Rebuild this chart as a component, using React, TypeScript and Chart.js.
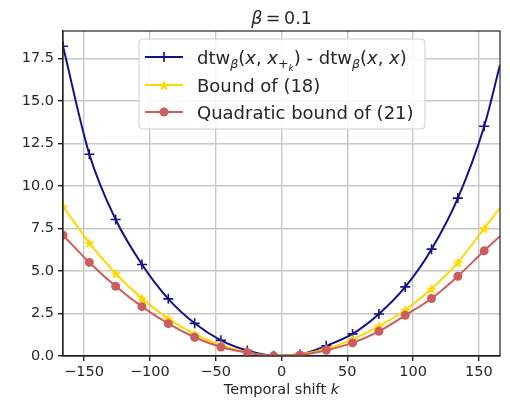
import React, { useEffect, useRef } from "react";
import { Chart, registerables } from "chart.js";

Chart.register(...registerables);

// Temporal shifts k at which the curves are sampled (markers every 20 steps, last point unmarked)
const shifts = [-166, -146, -126, -106, -86, -66, -46, -26, -6, 14, 34, 54, 74, 94, 114, 134, 154, 166];

// dtw_beta(x, x_{+k}) - dtw_beta(x, x)
const dtwGap = [18.2, 11.86, 8.02, 5.38, 3.36, 1.92, 0.92, 0.32, 0.02, 0.1, 0.6, 1.3, 2.47, 4.06, 6.28, 9.28, 13.5, 17.1];
// Bound of (18)
const bound18 = [8.8, 6.65, 4.85, 3.38, 2.2, 1.3, 0.63, 0.22, 0.01, 0.1, 0.42, 0.98, 1.75, 2.7, 3.95, 5.5, 7.5, 8.7];
// Quadratic bound of (21)
const quadBound21 = [7.1, 5.5, 4.1, 2.9, 1.9, 1.1, 0.53, 0.2, 0.01, 0.06, 0.34, 0.77, 1.45, 2.39, 3.38, 4.69, 6.18, 7.04];

const xTickValues = [-150, -100, -50, 0, 50, 100, 150];
const yTickValues = [0, 2.5, 5, 7.5, 10, 12.5, 15, 17.5];

const X_MIN = -166;
const X_MAX = 166;
const Y_MIN = 0;
const Y_MAX = 19.1;

const FAMILY = '"DejaVu Sans", "Liberation Sans", sans-serif';
const TEXT = "#262626";
const NAVY = "#111188";
const GOLD = "#ffd700";
const INDIAN_RED = "#cd5c5c";
const GRID = "#c8c8c8";
const SPINE = "#222222";

const TICK_PX = 14.5;
const LEGEND_PX = 18;
const TITLE_PX = 17.5;

function makeStar(size: number, color: string): HTMLCanvasElement {
  const c = document.createElement("canvas");
  c.width = size;
  c.height = size;
  const ctx = c.getContext("2d")!;
  const cx = size / 2;
  const cy = size / 2 + size * 0.05;
  const R = size / 2;
  const r = R * 0.4;
  ctx.fillStyle = color;
  ctx.beginPath();
  for (let i = 0; i < 10; i++) {
    const ang = -Math.PI / 2 + (i * Math.PI) / 5;
    const rad = i % 2 === 0 ? R : r;
    ctx.lineTo(cx + rad * Math.cos(ang), cy + rad * Math.sin(ang));
  }
  ctx.closePath();
  ctx.fill();
  return c;
}

type Seg = { t: string; italic?: boolean; scale?: number; dy?: number };

function drawRich(ctx: CanvasRenderingContext2D, segs: Seg[], x: number, y: number, px: number) {
  let cx = x;
  for (const s of segs) {
    const size = px * (s.scale ?? 1);
    ctx.font = `${s.italic ? "italic " : ""}${size}px ${FAMILY}`;
    ctx.fillText(s.t, cx, y + (s.dy ?? 0));
    cx += ctx.measureText(s.t).width;
  }
  return cx - x;
}

function richWidth(ctx: CanvasRenderingContext2D, segs: Seg[], px: number) {
  let w = 0;
  for (const s of segs) {
    const size = px * (s.scale ?? 1);
    ctx.font = `${s.italic ? "italic " : ""}${size}px ${FAMILY}`;
    w += ctx.measureText(s.t).width;
  }
  return w;
}

const sub = 0.7;
const dtwLabel: Seg[] = [
  { t: "dtw" },
  { t: "β", italic: true, scale: sub, dy: 4 },
  { t: "(" },
  { t: "x", italic: true },
  { t: ", " },
  { t: "x", italic: true },
  { t: "+", scale: sub, dy: 4 },
  { t: "k", italic: true, scale: 0.5, dy: 7 },
  { t: ") - dtw" },
  { t: "β", italic: true, scale: sub, dy: 4 },
  { t: "(" },
  { t: "x", italic: true },
  { t: ", " },
  { t: "x", italic: true },
  { t: ")" },
];

const legendRows: { label: Seg[]; color: string; marker: "plus" | "star" | "circle" }[] = [
  { label: dtwLabel, color: NAVY, marker: "plus" },
  { label: [{ t: "Bound of (18)" }], color: GOLD, marker: "star" },
  { label: [{ t: "Quadratic bound of (21)" }], color: INDIAN_RED, marker: "circle" },
];

function roundRect(ctx: CanvasRenderingContext2D, x: number, y: number, w: number, h: number, r: number) {
  ctx.beginPath();
  ctx.moveTo(x + r, y);
  ctx.lineTo(x + w - r, y);
  ctx.arcTo(x + w, y, x + w, y + r, r);
  ctx.lineTo(x + w, y + h - r);
  ctx.arcTo(x + w, y + h, x + w - r, y + h, r);
  ctx.lineTo(x + r, y + h);
  ctx.arcTo(x, y + h, x, y + h - r, r);
  ctx.lineTo(x, y + r);
  ctx.arcTo(x, y, x + r, y, r);
  ctx.closePath();
}

export default function App() {
  const ref = useRef<HTMLCanvasElement>(null);

  useEffect(() => {
    const canvas = ref.current!;
    const star = makeStar(12, GOLD);
    const lastIdx = shifts.length - 1;
    const radii = (r: number) => shifts.map((_, i) => (i === lastIdx ? 0 : r));
    const pts = (ys: number[]) => shifts.map((k, i) => ({ x: k, y: ys[i] }));

    // Axes frame, axis title, plot title and legend
    const decorations = {
      id: "decorations",
      afterDatasetsDraw(chart: Chart) {
        const { ctx, chartArea: a } = chart;
        ctx.save();
        ctx.strokeStyle = SPINE;
        ctx.lineWidth = 1.2;
        ctx.strokeRect(a.left, a.top, a.right - a.left, a.bottom - a.top);

        // Legend box
        const bx = 139, by = 39, bw = 286, bh = 90;
        roundRect(ctx, bx, by, bw, bh, 4);
        ctx.fillStyle = "rgba(255,255,255,0.85)";
        ctx.fill();
        ctx.strokeStyle = "rgba(200,200,200,0.9)";
        ctx.lineWidth = 1;
        ctx.stroke();

        const rowY = [57, 85, 112];
        legendRows.forEach((row, i) => {
          const y = rowY[i];
          ctx.strokeStyle = row.color;
          ctx.lineWidth = 2;
          ctx.beginPath();
          ctx.moveTo(145, y);
          ctx.lineTo(183, y);
          ctx.stroke();
          const mx = 164;
          if (row.marker === "plus") {
            ctx.lineWidth = 1.6;
            ctx.beginPath();
            ctx.moveTo(mx - 5, y);
            ctx.lineTo(mx + 5, y);
            ctx.moveTo(mx, y - 5);
            ctx.lineTo(mx, y + 5);
            ctx.stroke();
          } else if (row.marker === "star") {
            ctx.drawImage(star, mx - star.width / 2, y - star.height / 2);
          } else {
            ctx.fillStyle = row.color;
            ctx.beginPath();
            ctx.arc(mx, y, 4.5, 0, Math.PI * 2);
            ctx.fill();
          }
          ctx.fillStyle = TEXT;
          ctx.textBaseline = "alphabetic";
          ctx.textAlign = "left";
          drawRich(ctx, row.label, 197, y + 6.5, LEGEND_PX);
        });

        // Title
        const cx = (a.left + a.right) / 2;
        const titleSegs: Seg[] = [
          { t: "β", italic: true },
          { t: "\u2009=\u2009" },
          { t: "0.1" },
        ];
        ctx.fillStyle = TEXT;
        const tw = richWidth(ctx, titleSegs, TITLE_PX);
        drawRich(ctx, titleSegs, cx - tw / 2, 24, TITLE_PX);

        // x-axis title
        const xSegs: Seg[] = [{ t: "Temporal shift " }, { t: "k", italic: true }];
        const xw = richWidth(ctx, xSegs, TICK_PX);
        drawRich(ctx, xSegs, cx - xw / 2, 394, TICK_PX);
        ctx.restore();
      },
    };

    const chart = new Chart(canvas, {
      type: "line",
      data: {
        datasets: [
          {
            label: "dtw",
            data: pts(dtwGap),
            borderColor: NAVY,
            backgroundColor: NAVY,
            borderWidth: 2,
            pointStyle: "cross",
            pointRadius: radii(5),
            pointBorderWidth: 1.6,
            pointBorderColor: NAVY,
            cubicInterpolationMode: "monotone",
            order: 2,
          },
          {
            label: "Bound of (18)",
            data: pts(bound18),
            borderColor: GOLD,
            backgroundColor: GOLD,
            borderWidth: 2,
            pointStyle: star,
            pointRadius: radii(5),
            cubicInterpolationMode: "monotone",
            order: 1,
          },
          {
            label: "Quadratic bound of (21)",
            data: pts(quadBound21),
            borderColor: INDIAN_RED,
            backgroundColor: INDIAN_RED,
            borderWidth: 2,
            pointStyle: "circle",
            pointRadius: radii(4.5),
            pointBorderWidth: 0,
            cubicInterpolationMode: "monotone",
            order: 0,
          },
        ],
      },
      options: {
        responsive: false,
        animation: false,
        devicePixelRatio: 1,
        layout: { padding: { left: 0, right: 10, top: 31, bottom: 0 } },
        plugins: {
          legend: { display: false },
          tooltip: { enabled: false },
          title: { display: false },
        },
        scales: {
          x: {
            type: "linear",
            min: X_MIN,
            max: X_MAX,
            afterBuildTicks: (s: any) => {
              s.ticks = xTickValues.map((v) => ({ value: v }));
            },
            afterFit: (s: any) => {
              s.height = 45;
            },
            grid: { color: GRID, lineWidth: 1.4, tickColor: SPINE, tickLength: 5, drawTicks: true },
            border: { display: true, color: SPINE, width: 1.2 },
            ticks: {
              color: TEXT,
              padding: 3,
              maxRotation: 0,
              font: { family: FAMILY, size: TICK_PX },
              callback: (v: any) => (Number(v) < 0 ? "\u2212" + Math.abs(Number(v)) : String(v)),
            },
          },
          y: {
            type: "linear",
            min: Y_MIN,
            max: Y_MAX,
            afterBuildTicks: (s: any) => {
              s.ticks = yTickValues.map((v) => ({ value: v }));
            },
            afterFit: (s: any) => {
              s.width = 63;
            },
            grid: { color: GRID, lineWidth: 1.4, tickColor: SPINE, tickLength: 5, drawTicks: true },
            border: { display: true, color: SPINE, width: 1.2 },
            ticks: {
              color: TEXT,
              padding: 4,
              font: { family: FAMILY, size: TICK_PX },
              callback: (v: any) => Number(v).toFixed(1),
            },
          },
        },
      },
      plugins: [decorations],
    } as any);

    return () => chart.destroy();
  }, []);

  return (
    <div style={{ position: "fixed", left: 0, top: 0, width: 510, height: 401, background: "#ffffff" }}>
      <canvas ref={ref} width={510} height={401} style={{ display: "block", width: 510, height: 401 }} />
    </div>
  );
}
